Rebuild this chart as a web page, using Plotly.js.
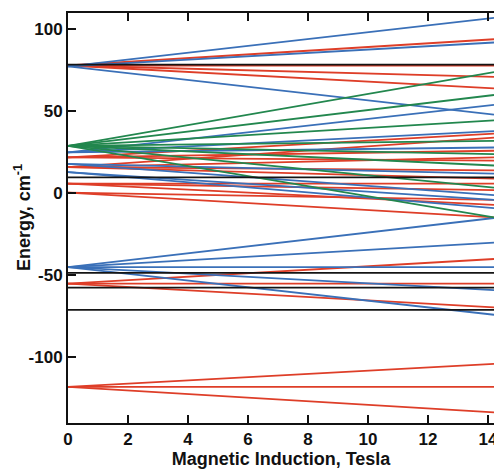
<!DOCTYPE html>
<html>
<head>
<meta charset="utf-8">
<script src="https://cdn.plot.ly/plotly-3.0.1.min.js"></script>
<style>html,body{margin:0;padding:0;background:#fff;}#chart{width:494px;height:469px;}</style>
</head>
<body>
<div id="chart"></div>
<script>
// Magnetic induction (Tesla) at the start and right edge of the chart
const fieldB = [0, 14.2];

// Zeeman levels: energy at B = 0 and at the right edge (cm^-1)
const redStart = [78, 78, 78, 78, 22, 22, 22, 16, 16, 16, 16, 6, 6, 6, 0.5, 0.5, -55, -55, -55, -118, -118, -118];
const redEnd   = [94, 78, 71, 64, 36.5, 26, 20, 34, 22, 14, 9, 6, 2, -7, -4, -14.6, -40, -55, -69.5, -104, -118, -133.5];

const blueStart = [77.5, 77.5, 77.5, 25, 25, 25, 18, 18, 13, 13, -45, -45, -45, -45, -45];
const blueEnd   = [107, 92, 48, 54, 38, 28, 12, -1, -4, -9, -15, -30, -45, -59, -74];

const greenStart = [29, 29, 29, 29, 29, 29, 29, 29];
const greenEnd   = [74, 60, 44.5, 32, 24, 17, 3.5, -14.6];

const blackLevels = [78.5, 9.8, -48.5, -57.5, -71];

const xTicks = [0, 2, 4, 6, 8, 10, 12, 14];
const yTicks = [-100, -50, 0, 50, 100];

const xTitle = 'Magnetic Induction, Tesla';
const yTitle = 'Energy, cm<sup>-1</sup>';

const traces = [];
function addLines(starts, ends, color, width) {
  for (let i = 0; i < starts.length; i++) {
    traces.push({
      x: fieldB, y: [starts[i], ends[i]], type: 'scatter', mode: 'lines',
      line: {color: color, width: width}, showlegend: false, hoverinfo: 'skip'
    });
  }
}
addLines(redStart, redEnd, 'rgb(222,62,40)', 1.8);
addLines(blueStart, blueEnd, 'rgb(58,112,184)', 1.8);
addLines(greenStart, greenEnd, 'rgb(34,135,78)', 1.8);
addLines(blackLevels, blackLevels, 'rgb(20,20,20)', 1.8);

const fam = 'Liberation Sans, Arial, sans-serif';
const tickFont = {family: fam, size: 17, color: '#111', weight: 'bold'};
const titleFont = {family: fam, size: 18, color: '#111', weight: 'bold'};

const layout = {
  width: 494, height: 469,
  margin: {l: 68, r: 0, t: 13, b: 46, pad: 0},
  paper_bgcolor: '#fff', plot_bgcolor: '#fff',
  font: {family: fam, size: 16, color: '#111'},
  xaxis: {
    range: [0, 14.2], tickvals: xTicks, ticktext: xTicks.map(String),
    ticks: 'inside', ticklen: 8, tickwidth: 2, tickcolor: '#111',
    showline: true, linewidth: 2, linecolor: '#111', mirror: 'ticks',
    showgrid: false, zeroline: false, ticklabeloverflow: 'allow',
    tickfont: tickFont,
    title: {text: xTitle, standoff: 0, font: titleFont}
  },
  yaxis: {
    range: [-140, 110], tickvals: yTicks, ticktext: yTicks.map(String),
    ticks: 'inside', ticklen: 8, tickwidth: 2, tickcolor: '#111',
    showline: true, linewidth: 2, linecolor: '#111', mirror: false,
    showgrid: false, zeroline: false, ticklabeloverflow: 'allow',
    tickfont: tickFont
  },
  annotations: [{
    text: yTitle, xref: 'paper', yref: 'paper',
    x: -46 / 426, y: 0.5, xanchor: 'center', yanchor: 'middle',
    textangle: -90, showarrow: false, font: titleFont
  }]
};

Plotly.newPlot('chart', traces, layout, {displayModeBar: false, staticPlot: true});
</script>
</body>
</html>
